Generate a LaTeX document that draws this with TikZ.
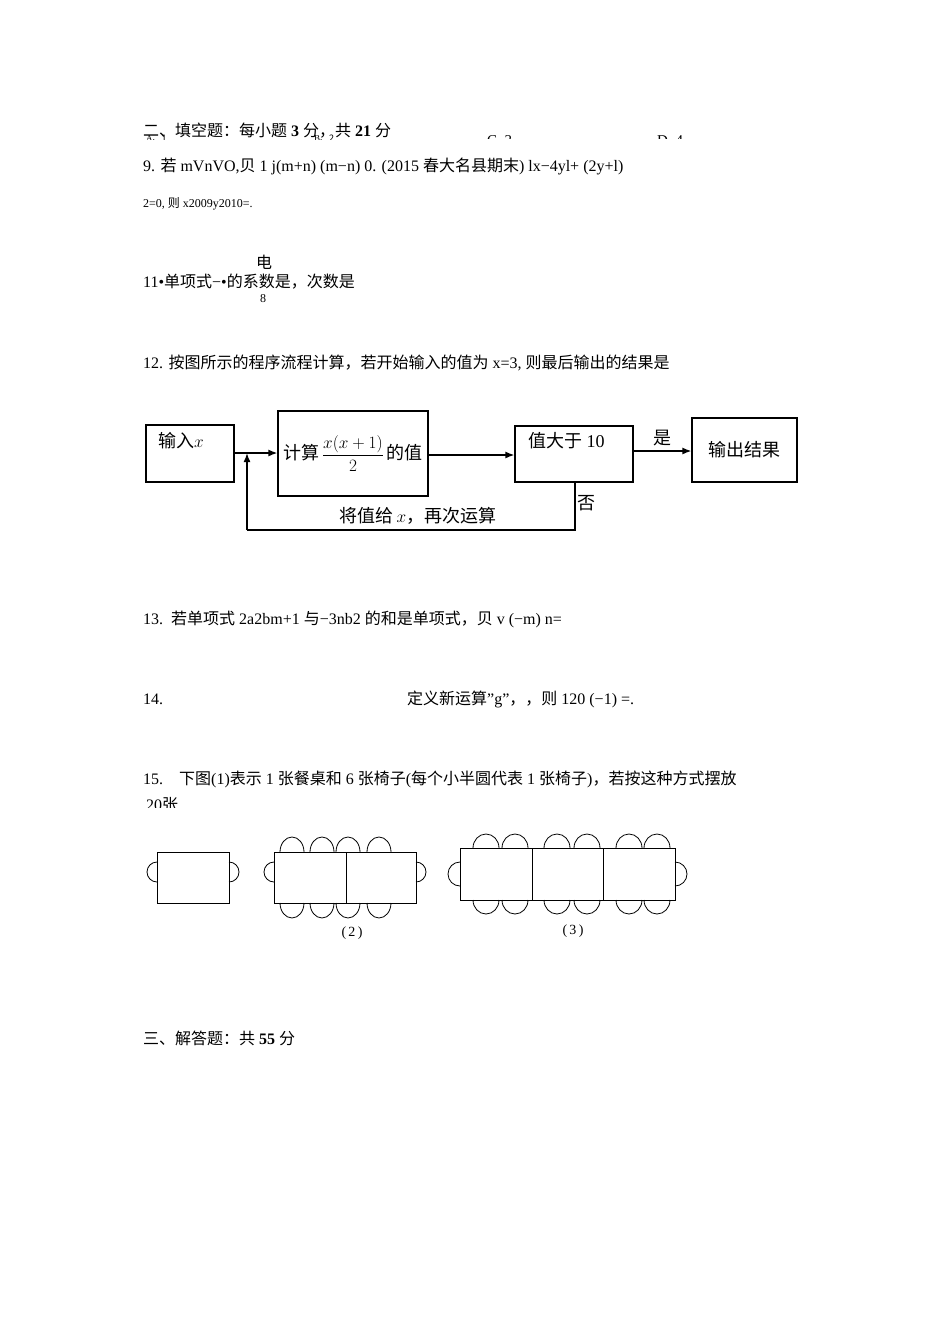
\documentclass[tikz,border=0pt]{standalone}
\usepackage{fontspec}
\usetikzlibrary{arrows.meta}
\setmainfont{Liberation Serif}
\newfontfamily\cj{Noto Sans CJK SC}
\begin{document}
\begin{tikzpicture}[x=1pt,y=-1pt,
  txt/.style={anchor=base west,inner sep=0pt,font=\fontsize{16}{18}\selectfont},
  sm/.style={anchor=base west,inner sep=0pt,font=\fontsize{12}{14}\selectfont},
  fbox/.style={draw,line width=1.1pt,inner sep=0pt},
  flab/.style={inner sep=0pt,font=\fontsize{18}{21}\selectfont},
  arr/.style={-{Latex[length=9pt,width=7pt]},line width=1.6pt},
  tbl/.style={draw,line width=0.8pt},
  chair/.style={draw,line width=0.8pt}]
\useasboundingbox (0,0) rectangle (950,1344);
\fill[white] (0,0) rectangle (950,1344);
% line 1 (clipped at bottom)
\begin{scope}
\clip (130,110) rectangle (720,138);
\node[txt] (l1) at (143,136) {{\cj 二、填空题：每小题} \textbf{3} {\cj 分，共} \textbf{21} {\cj 分}};
\node[sm,font=\fontsize{15}{16}\selectfont] (ld) at (657,145) {D\ \ 4};
\node[sm,font=\fontsize{15}{16}\selectfont] (lc) at (487,145) {C\ \ 3};
\end{scope}
\begin{scope}
\clip (130,110) rectangle (720,139);
\node[sm,font=\fontsize{9}{10}\selectfont] (la) at (146,141) {A\cj 、1};
\node[sm,font=\fontsize{9}{10}\selectfont] (lb) at (314,141) {B\cj 、2};
\end{scope}
\node[txt] (l9) at (143,171) {9. {\cj 若} mVnVO,{\cj 贝} 1 j(m+n) (m−n) 0. ({2015 \cj 春大名县期末}) lx−4yl+ (2y+l)};
\node[sm] (l9b) at (143,207) {2=0, {\cj 则} x2009y2010=.};
\node[txt] (l11a) at (256,268) {\cj 电};
\node[txt] (l11) at (143,287) {11•{\cj 单项式}−•{\cj 的系数是，次数是}};
\node[sm] (l11b) at (260,302) {8};
\node[txt] (l12) at (143,368) {12. {\cj 按图所示的程序流程计算，若开始输入的值为} x=3, {\cj 则最后输出的结果是}};
% flowchart
\node[fbox,minimum width=88,minimum height=57] (in) at (190,453.5) {};
\node[flab,anchor=north west] (int) at (158,432) {{\cj 输入}$x$};
\node[fbox,minimum width=150,minimum height=85] (calc) at (353,453.5) {\fontsize{18}{21}\selectfont{\cj 计算}\,$\displaystyle\frac{x(x+1)}{2}$\,{\cj 的值}};
\node[fbox,minimum width=118,minimum height=56] (val) at (574,454) {};
\node[flab,anchor=north west] (valt) at (528,432) {{\cj 值大于} 10};
\node[fbox,minimum width=105,minimum height=64] (out) at (744.5,450) {\fontsize{18}{21}\selectfont\cj 输出结果};
\draw[arr] (in.east|-0,453) -- (calc.west|-0,453);
\draw[arr] (calc.east|-0,455) -- (val.west|-0,455);
\draw[arr] (val.east|-0,451) -- (out.west|-0,451);
\node[flab] (yes) at (662,438) {\cj 是};
\coordinate (lp1) at (575,530);
\coordinate (lp2) at (247,530);
\draw[line width=1.4pt] (val.south-|lp1) -- (lp1) -- (lp2);
\draw[arr] (lp2) -- (247,453);
\node[flab] (no) at (586,503) {\cj 否};
\node[flab] (loopt) at (418,516) {{\cj 将值给}\,$x${\cj ，再次运算}};
\node[txt] (l13) at (143,624) {13.\ \ {\cj 若单项式} 2a2bm+1 {\cj 与}−3nb2 {\cj 的和是单项式，贝} v (−m) n=};
\node[txt] (l14) at (143,704) {14.};
\node[txt] (l14b) at (407,704) {{\cj 定义新运算}"g"{\cj ，，则} 120 (−1) =.};
\node[txt] (l15) at (143,784) {15.\ \ \ \ {\cj 下图}(1){\cj 表示} 1 {\cj 张餐桌和} 6 {\cj 张椅子}({\cj 每个小半圆代表} 1 {\cj 张椅子}){\cj ，若按这种方式摆放}};
\begin{scope}
\clip (130,790) rectangle (300,807);
\node[txt] (l15b) at (146,810) {20{\cj 张}};
\end{scope}
% table 1
\draw[chair] (157,862) arc (270:90:10);
\draw[chair] (229,862) arc (-90:90:10);
\draw[tbl] (157,852) rectangle (229,903);
% table 2
\foreach \cx in {292,322,348,379}{
  \draw[chair] (\cx-12,852) arc (180:360:12 and 15);
  \draw[chair] (\cx-12,903) arc (180:0:12 and 15);}
\draw[chair] (274,862) arc (270:90:10);
\draw[chair] (416,862) arc (-90:90:10);
\draw[tbl] (274,852) rectangle (416,903);
\draw[tbl] (346,852) -- (346,903);
\node[flab,font=\fontsize{14}{16}\selectfont] (c2) at (352,933) {(\,2\,)};
% table 3
\foreach \cx in {486,515,557,587,629,657}{
  \draw[chair] (\cx-13,848) arc (180:360:13 and 14);
  \draw[chair] (\cx-13,900) arc (180:0:13 and 14);}
\draw[chair] (460,862) arc (270:90:12);
\draw[chair] (675,862) arc (-90:90:12);
\draw[tbl] (460,848) rectangle (675,900);
\draw[tbl] (532,848) -- (532,900);
\draw[tbl] (603,848) -- (603,900);
\node[flab,font=\fontsize{14}{16}\selectfont] (c3) at (573,931) {(\,3\,)};
\node[txt] (l3) at (143,1044) {{\cj 三、解答题：共} \textbf{55} {\cj 分}};
\end{tikzpicture}
\end{document}
